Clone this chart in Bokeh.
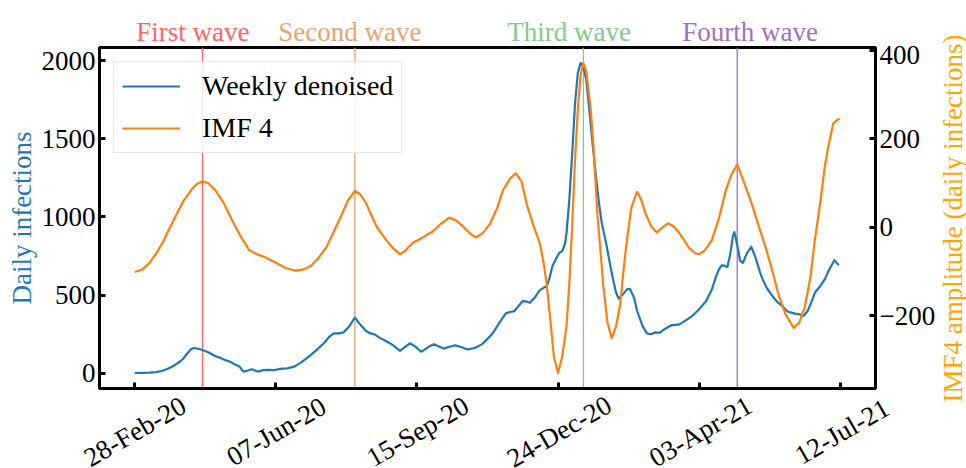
import math
import pandas as pd
from bokeh.plotting import figure
from bokeh.layouts import column, row
from bokeh.models import (Range1d, LinearAxis, FixedTicker, Span, Legend, LegendItem,
                          ColumnDataSource)
from bokeh.core.properties import value
from bokeh.embed import file_html
from bokeh.resources import INLINE

FONT = "Liberation Serif"
FS = "27px"

# ---------------- data ----------------
start_date = "2020-02-28"

blue_days = [0, 5, 10, 15, 19, 23, 27, 31, 34, 37, 40, 42, 45, 48, 52, 57, 61, 64, 68, 71,
             74, 77, 80, 83, 87, 91, 95, 99, 103, 108, 113, 118, 124, 129, 134, 138, 141,
             145, 148, 152, 156, 160, 164, 167, 170, 174, 178, 183, 188, 191, 195, 199, 203,
             206, 209, 212, 216, 219, 223, 227, 231, 236, 241, 246, 250, 254, 259, 263, 266,
             269, 272, 275, 278, 280, 284, 287, 290, 292, 294, 296, 299, 301, 303, 305, 306,
             308, 310, 312, 314, 316, 318, 320, 322, 325, 327, 329, 331, 334, 337, 339, 341,
             343, 346, 349, 351, 354, 356, 360, 363, 366, 369, 372, 376, 380, 383, 386, 390,
             395, 400, 405, 409, 412, 414, 416, 418, 420, 422, 424, 425, 427, 429, 431, 434,
             437, 440, 443, 445, 448, 452, 455, 459, 462, 464, 468, 471, 474, 477, 480, 482,
             486, 489, 492, 496, 499]
blue_vals = [2, 3, 4, 8, 15, 28, 45, 68, 90, 125, 155, 162, 157, 149, 135, 111, 97, 85, 72, 57,
             45, 11, 18, 26, 11, 20, 22, 20, 28, 32, 43, 70, 111, 150, 192, 235, 255,
             255, 262, 300, 356, 310, 270, 255, 249, 225, 207, 180, 143, 165, 192, 170, 138,
             155, 174, 185, 170, 158, 170, 179, 168, 153, 162, 185, 220, 260, 330, 383, 392,
             398, 430, 462, 458, 451, 490, 530, 548, 556, 610, 685, 740, 771, 781, 830, 898,
             1111, 1400, 1720, 1920, 1984, 1960, 1877, 1700, 1420, 1250, 1090, 960, 835, 690, 600, 520,
             477, 505, 538, 540, 480, 400, 300, 255, 250, 262, 258, 285, 306, 310, 313, 335,
             366, 410, 462, 536, 620, 664, 690, 688, 679, 760, 880, 902, 820, 720, 707, 770,
             809, 740, 650, 600, 545, 494, 460, 430, 400, 391, 382, 377, 366, 400, 465, 515,
             560, 600, 660, 724, 690]

imf_days = [0, 5, 10, 15, 20, 25, 30, 35, 40, 44, 48, 52, 57, 63, 69, 75, 81, 86, 92, 100,
            107, 114, 120, 125, 130, 136, 141, 146, 151, 156, 160, 164, 168, 172, 179, 184,
            188, 192, 197, 202, 207, 211, 217, 223, 228, 233, 238, 242, 247, 252, 257, 261,
            266, 270, 274, 278, 282, 287, 290, 292, 295, 297, 300, 303, 306, 308, 310, 312,
            314, 316, 318, 320, 323, 325, 328, 330, 332, 335, 338, 341, 344, 346, 348, 350,
            352, 356, 359, 362, 366, 370, 374, 378, 382, 386, 393, 397, 400, 404, 409, 414,
            419, 423, 427, 432, 438, 442, 447, 452, 456, 461, 467, 471, 475, 479, 482, 486,
            489, 492, 495, 498, 500]
imf_vals = [-101, -96, -82, -60, -33, 0, 32, 62, 84, 98, 104, 100, 84, 55, 16, -20, -51, -60, -67, -80,
            -92, -98, -95, -87, -70, -44, -10, 24, 60, 82, 74, 54, 25, -2, -32, -50,
            -61, -52, -35, -27, -17, -10, 8, 22, 15, 1, -15, -23, -12, 9, 45, 84,
            110, 122, 105, 50, 9, -35, -85, -130, -224, -291, -329, -291, -224, -126, 1, 150,
            265, 345, 371, 352, 272, 190, 25, -50, -130, -215, -250, -225, -175, -110, -51, 0,
            45, 80, 62, 31, 2, -12, 0, 9, 2, -13, -47, -58, -61, -52, -29, 20,
            84, 120, 142, 100, 46, 5, -44, -100, -149, -195, -227, -215, -179, -110, -29, 60,
            136, 190, 234, 243, 244]

tick_labels = ["28-Feb-20", "07-Jun-20", "15-Sep-20", "24-Dec-20", "03-Apr-21", "12-Jul-21"]
left_ticks = [0, 500, 1000, 1500, 2000]
right_ticks = [-200, 0, 200, 400]

wave_names = ["First wave", "Second wave", "Third wave", "Fourth wave"]
wave_dates = ["2020-04-16", "2020-08-02", "2021-01-11", "2021-04-30"]
wave_colors = ["#ff6469", "#e9a272", "#84c98c", "#9b72c2"]

# ---------------- layout constants (pixels) ----------------
W, H = 966, 468
RLAB_W = 28                  # band holding the right axis title
COL_W = W - RLAB_W           # width of the stacked column
LEFT = 99                    # frame left edge
FRAME_R = 877                # frame right edge
TOP_H = 45                   # band with the wave titles
MAIN_H = 345                 # main plot, frame from y=47 to y=388
BOT_H = H - TOP_H - MAIN_H   # band with the rotated date labels

# ---------------- helpers ----------------
t0 = pd.Timestamp(start_date)
DAY_MS = 86400000.0


def ms(ts):
    return pd.Timestamp(ts).value / 1e6


blue_x = [ms(t0 + pd.Timedelta(days=d)) for d in blue_days]
imf_x = [ms(t0 + pd.Timedelta(days=d)) for d in imf_days]
tick_dates = pd.to_datetime(tick_labels, format="%d-%b-%y")
tick_ms = [ms(t) for t in tick_dates]

last_day = max(blue_days + imf_days)
pad_x = 0.05 * last_day
x_start = ms(t0) - pad_x * DAY_MS
x_end = ms(t0) + (last_day + pad_x) * DAY_MS

bmin, bmax = min(blue_vals), max(blue_vals)
bpad = 0.05 * (bmax - bmin)
imin, imax = min(imf_vals), max(imf_vals)
ipad = 0.05 * (imax - imin)

# px per ms inside the main frame; bands span the whole column width
k = (FRAME_R - LEFT) / (x_end - x_start)
band_range_args = (x_start - LEFT / k, x_end + (COL_W - FRAME_R) / k)


def band(width, height, x_range, y_range):
    fig = figure(width=width, height=height, x_range=x_range, y_range=y_range,
                 output_backend="svg", toolbar_location=None,
                 x_axis_location=None, y_axis_location=None,
                 min_border_left=0, min_border_right=0, min_border_top=0, min_border_bottom=0)
    fig.frame_align = False
    fig.outline_line_color = None
    fig.background_fill_color = "white"
    fig.border_fill_color = "white"
    fig.xgrid.visible = False
    fig.ygrid.visible = False
    return fig


# ---------------- top band: wave titles ----------------
top = band(COL_W, TOP_H, Range1d(*band_range_args), Range1d(0, TOP_H))
title_shift_days = [-7, -4, -11, 8]
top_src = ColumnDataSource(dict(
    x=[ms(pd.Timestamp(d) + pd.Timedelta(days=s)) for d, s in zip(wave_dates, title_shift_days)],
    y=[13.5] * len(wave_names), text=wave_names, color=wave_colors))
top.text(x="x", y="y", text="text", text_color="color", source=top_src,
         text_align="center", text_baseline="alphabetic",
         text_font=value(FONT), text_font_size=FS, level="overlay")

# ---------------- main plot ----------------
p = figure(width=COL_W, height=MAIN_H, x_range=Range1d(x_start, x_end),
           y_range=Range1d(bmin - bpad, bmax + bpad),
           output_backend="svg", toolbar_location=None,
           min_border_left=LEFT, min_border_right=COL_W - FRAME_R,
           min_border_top=2, min_border_bottom=2)
p.frame_align = False
p.extra_y_ranges = {"imf": Range1d(imin - ipad, imax + ipad)}
p.xgrid.visible = False
p.ygrid.visible = False
p.outline_line_color = "black"
p.outline_line_width = 3
p.background_fill_color = "white"
p.border_fill_color = "white"

for d, c in zip(wave_dates, wave_colors):
    p.add_layout(Span(location=ms(d), dimension="height", line_color=c,
                      line_width=1.3, level="underlay"))

r_blue = p.line(blue_x, blue_vals, line_color="#1f77b4", line_width=2.2, line_join="round")
r_imf = p.line(imf_x, imf_vals, line_color="#ff7f0e", line_width=2.2, line_join="round",
               y_range_name="imf")


def style_axis(ax):
    ax.axis_line_width = 3
    ax.axis_line_color = "black"
    ax.major_tick_in = 6
    ax.major_tick_out = 0
    ax.major_tick_line_width = 3
    ax.major_tick_line_color = "black"
    ax.minor_tick_line_color = None
    ax.major_label_text_font = FONT
    ax.major_label_text_font_size = FS
    ax.major_label_text_color = "black"
    ax.axis_label_text_font = FONT
    ax.axis_label_text_font_size = FS
    ax.axis_label_text_font_style = "normal"
    ax.major_label_standoff = 4


xa = p.xaxis[0]
style_axis(xa)
xa.ticker = FixedTicker(ticks=tick_ms)
xa.major_label_overrides = {t: "" for t in tick_ms}
xa.major_label_text_font_size = "0px"
xa.major_label_standoff = 0

ya = p.yaxis[0]
style_axis(ya)
ya.ticker = FixedTicker(ticks=left_ticks)
ya.axis_label = "Daily infections"
ya.axis_label_text_color = "#1f77b4"
ya.axis_label_standoff = 2

ra = LinearAxis(y_range_name="imf")
style_axis(ra)
ra.ticker = FixedTicker(ticks=right_ticks)
ra.major_label_overrides = {t: str(t).replace("-", "\u2212") for t in right_ticks}
p.add_layout(ra, "right")

legend = Legend(items=[LegendItem(label="Weekly denoised", renderers=[r_blue]),
                       LegendItem(label="IMF 4", renderers=[r_imf])],
                location="top_left", margin=14, padding=8, spacing=10,
                glyph_width=58, glyph_height=30, label_height=30, label_standoff=22,
                label_text_font=FONT, label_text_font_size="28px", label_text_color="black",
                border_line_color="#d0d0d0", border_line_width=1,
                background_fill_color="white", background_fill_alpha=0.85)
p.add_layout(legend)

# ---------------- bottom band: rotated date labels ----------------
bot = band(COL_W, BOT_H, Range1d(*band_range_args), Range1d(0, BOT_H))
bot.text(x=tick_ms, y=[BOT_H - 41] * len(tick_ms), text=tick_labels,
         angle=math.radians(30), text_align="center", text_baseline="middle",
         text_color="black", text_font=value(FONT), text_font_size=FS, level="overlay")

# ---------------- right band: right axis title ----------------
rlab = band(RLAB_W, H, Range1d(0, RLAB_W), Range1d(0, H))
rlab.text(x=[14], y=[H - 218], text=["IMF4 amplitude (daily infections)"],
          angle=math.pi / 2, text_align="center", text_baseline="middle",
          text_color="#ffa500", text_font=value(FONT), text_font_size=FS, level="overlay")

layout = row(column(top, p, bot), rlab)
open("out.html", "w").write(file_html(layout, INLINE))
